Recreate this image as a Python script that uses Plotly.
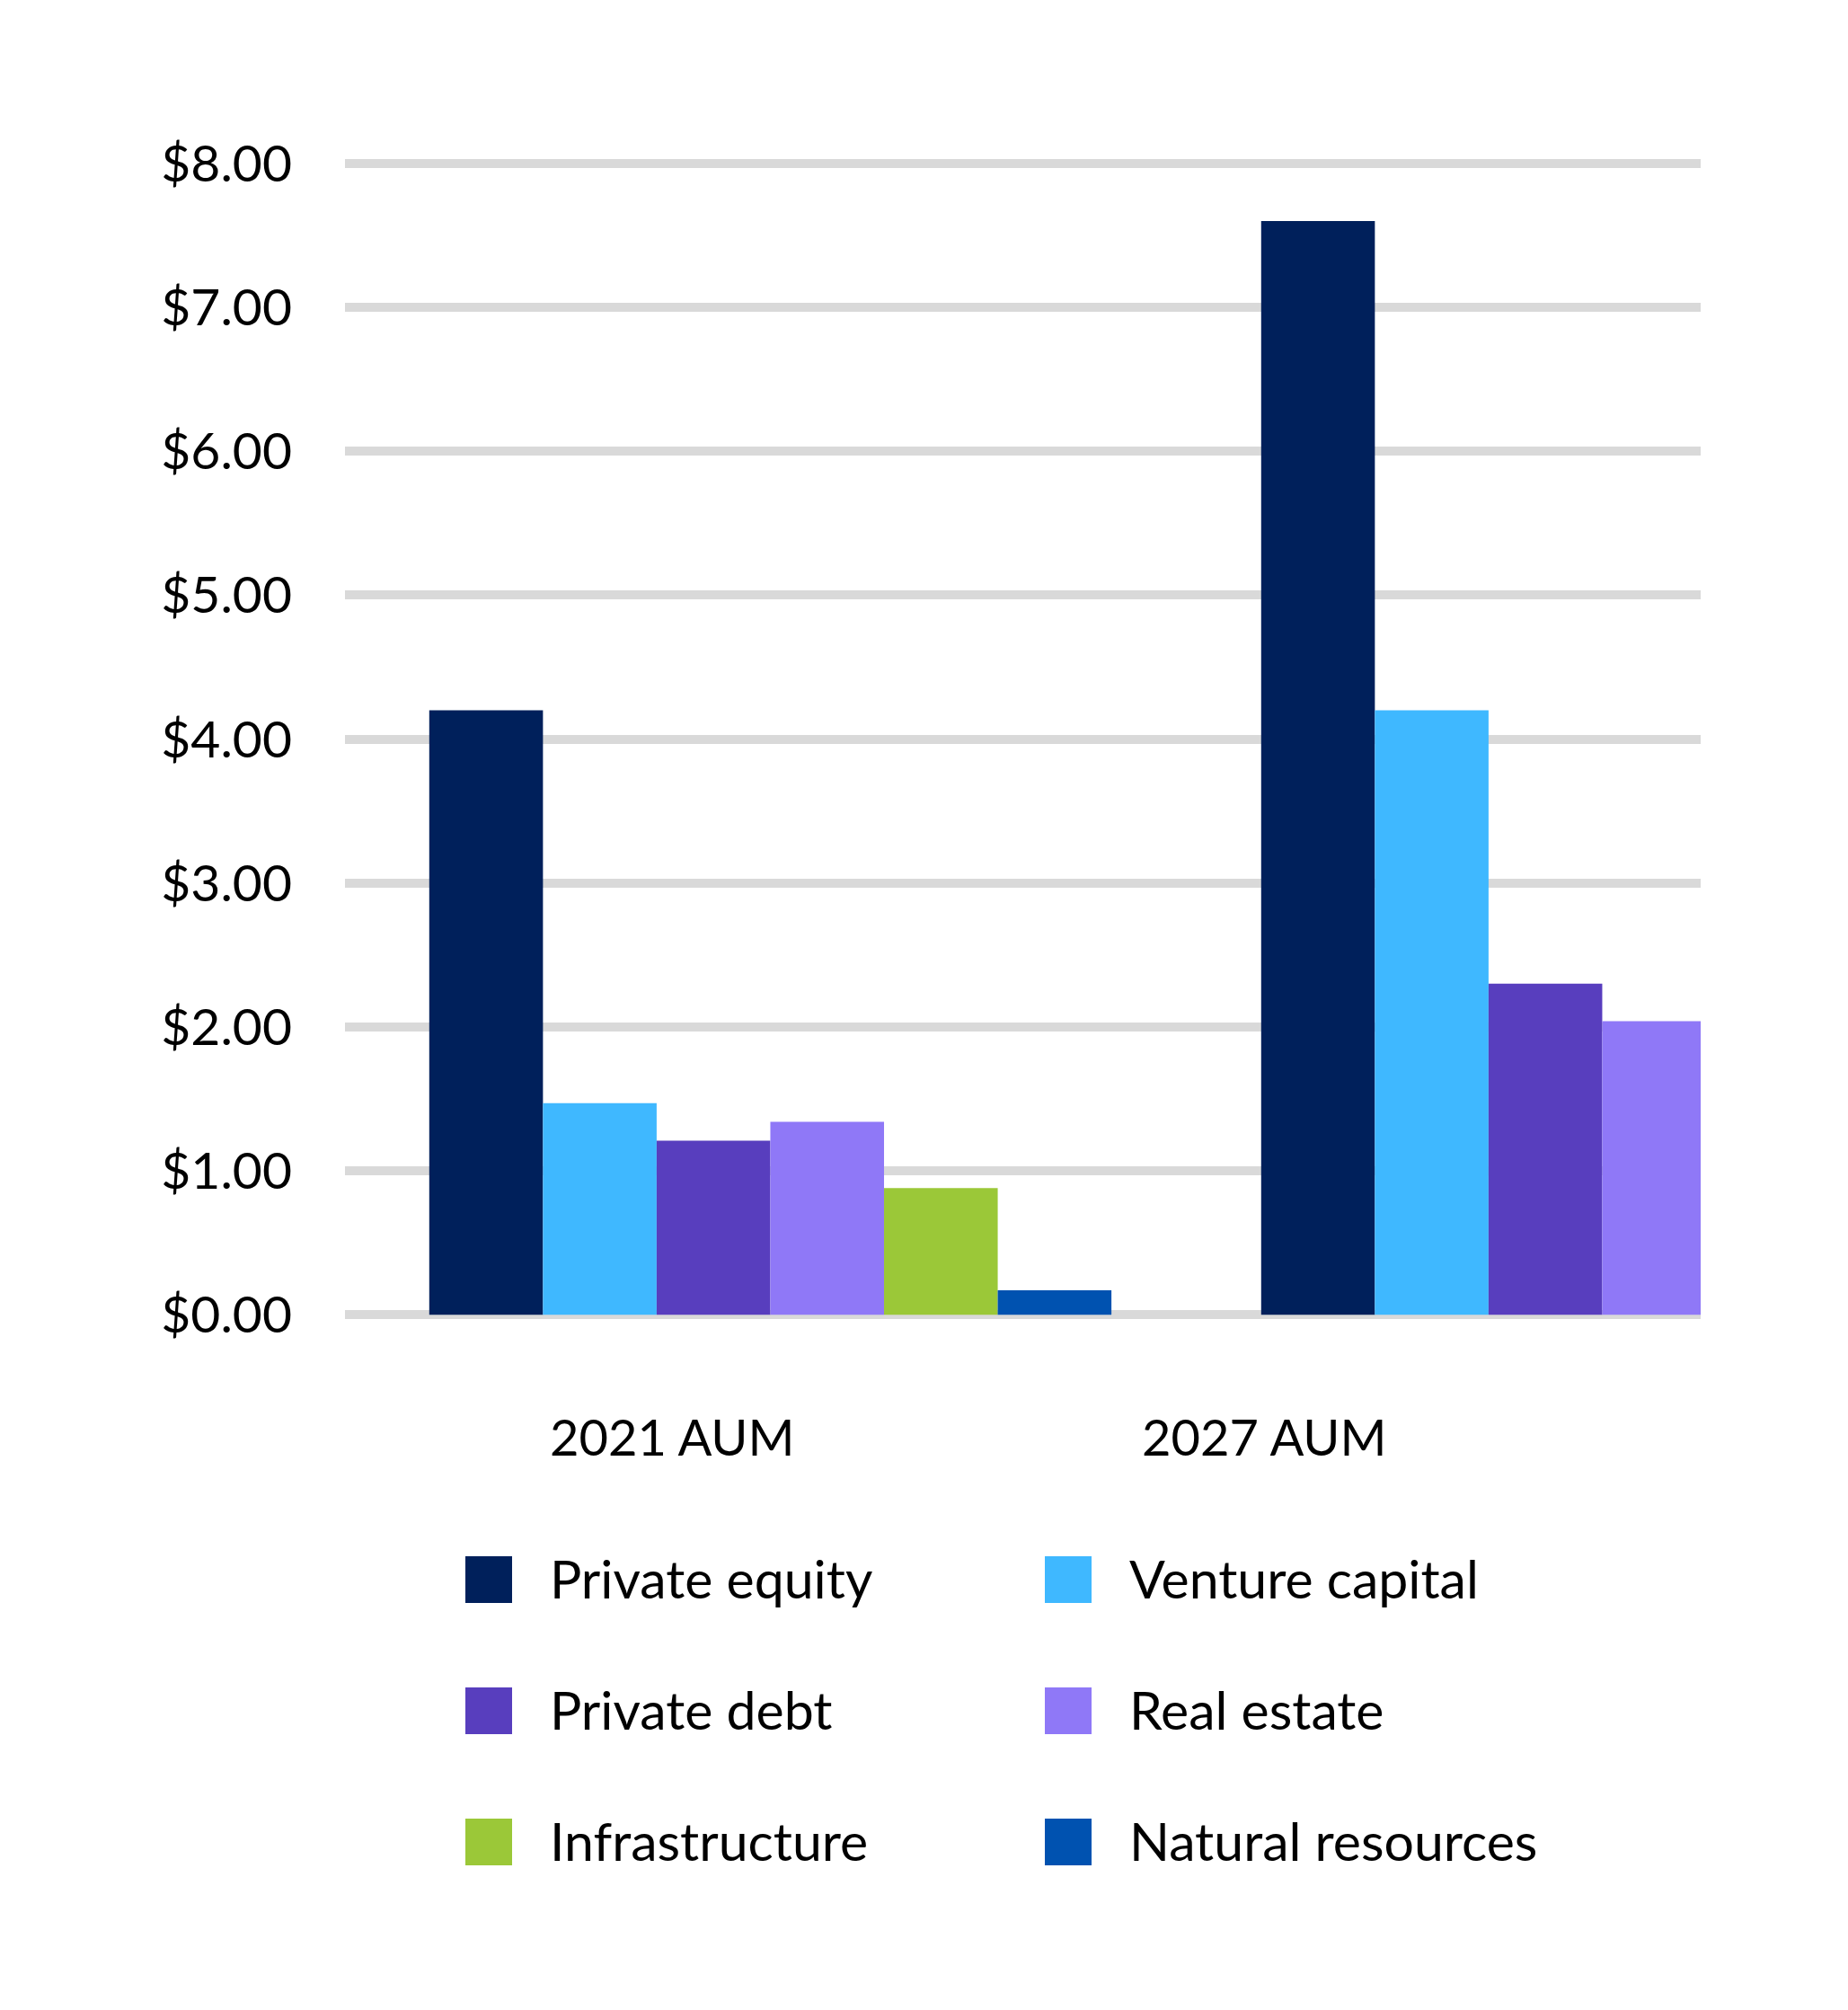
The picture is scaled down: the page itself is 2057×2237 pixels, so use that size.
import plotly.graph_objects as go

# data (US$ trillions)
categories = ["2021 AUM", "2027 AUM"]
series_names = ["Private equity", "Venture capital", "Private debt",
                "Real estate", "Infrastructure", "Natural resources"]
private_equity = [4.2, 7.6]
venture_capital = [1.47, 4.2]
private_debt = [1.21, 2.3]
real_estate = [1.34, 2.04]
infrastructure = [0.88, None]      # 2027 bar falls outside the visible area
natural_resources = [0.17, None]
colors = ["#00205b", "#3fb8ff", "#583ebe", "#8f78f7", "#9bc838", "#0052b0"]
tick_values = [0, 1, 2, 3, 4, 5, 6, 7, 8]
tick_labels = ["$0.00", "$1.00", "$2.00", "$3.00", "$4.00",
               "$5.00", "$6.00", "$7.00", "$8.00"]

series_values = [private_equity, venture_capital, private_debt,
                 real_estate, infrastructure, natural_resources]

W, H = 2057, 2237
OFF = 8                             # page margin around the plotly div
L, R, T, B = 384 - OFF, 1893 - OFF, 118 - OFF, 1468 - OFF   # plot area
FONT = "Lato"

fig = go.Figure()
for name, vals, col in zip(series_names, series_values, colors):
    fig.add_trace(go.Bar(x=categories, y=vals, name=name,
                         marker=dict(color=col, line=dict(width=0))))


def px(x):
    return (x - OFF - L) / (R - L)


def py(y):
    return (B - (y - OFF)) / (B - T)


# hand-made legend: 2 columns x 3 rows of big squares
shapes = []
annotations = []
col_x = [518, 1163]
row_y = [1758, 1904, 2050]
for i, (name, col) in enumerate(zip(series_names, colors)):
    cx = col_x[i % 2]
    cy = row_y[i // 2]
    shapes.append(dict(type="rect", xref="paper", yref="paper",
                       x0=px(cx), x1=px(cx + 52), y0=py(cy + 26), y1=py(cy - 26),
                       fillcolor=col, line=dict(width=0)))
    annotations.append(dict(xref="paper", yref="paper", x=px(cx + 92), y=py(cy - 2),
                            xanchor="left", yanchor="middle", showarrow=False,
                            text=name, font=dict(family=FONT, size=59, color="#000000")))

# category labels (sit left of their bar groups in the original)
for cat, xpos in zip(categories, [-0.118, 0.594]):
    annotations.append(dict(xref="x", yref="paper", x=xpos, y=py(1598),
                            xanchor="center", yanchor="middle", showarrow=False,
                            text=cat, font=dict(family=FONT, size=56, color="#000000")))

fig.update_layout(
    width=W, height=H,
    margin=dict(l=L, r=W - R, t=T, b=H - B),
    paper_bgcolor="white", plot_bgcolor="white",
    barmode="group", bargap=0.18, bargroupgap=0,
    showlegend=False,
    font=dict(family=FONT, size=56, color="#000000"),
    shapes=shapes, annotations=annotations,
)
fig.update_xaxes(range=[-0.5113, 1.1183], showticklabels=False, showgrid=False,
                 zeroline=False, showline=False, ticks="")
fig.update_yaxes(range=[-0.03, 8.4], tickmode="array", tickvals=tick_values,
                 ticktext=tick_labels,
                 showgrid=True, gridcolor="#d9d9d9", gridwidth=10,
                 zeroline=False, showline=False, ticks="", ticklabelstandoff=58,
                 tickfont=dict(family=FONT, size=57, color="#000000"))

fig.write_html("out.html")
